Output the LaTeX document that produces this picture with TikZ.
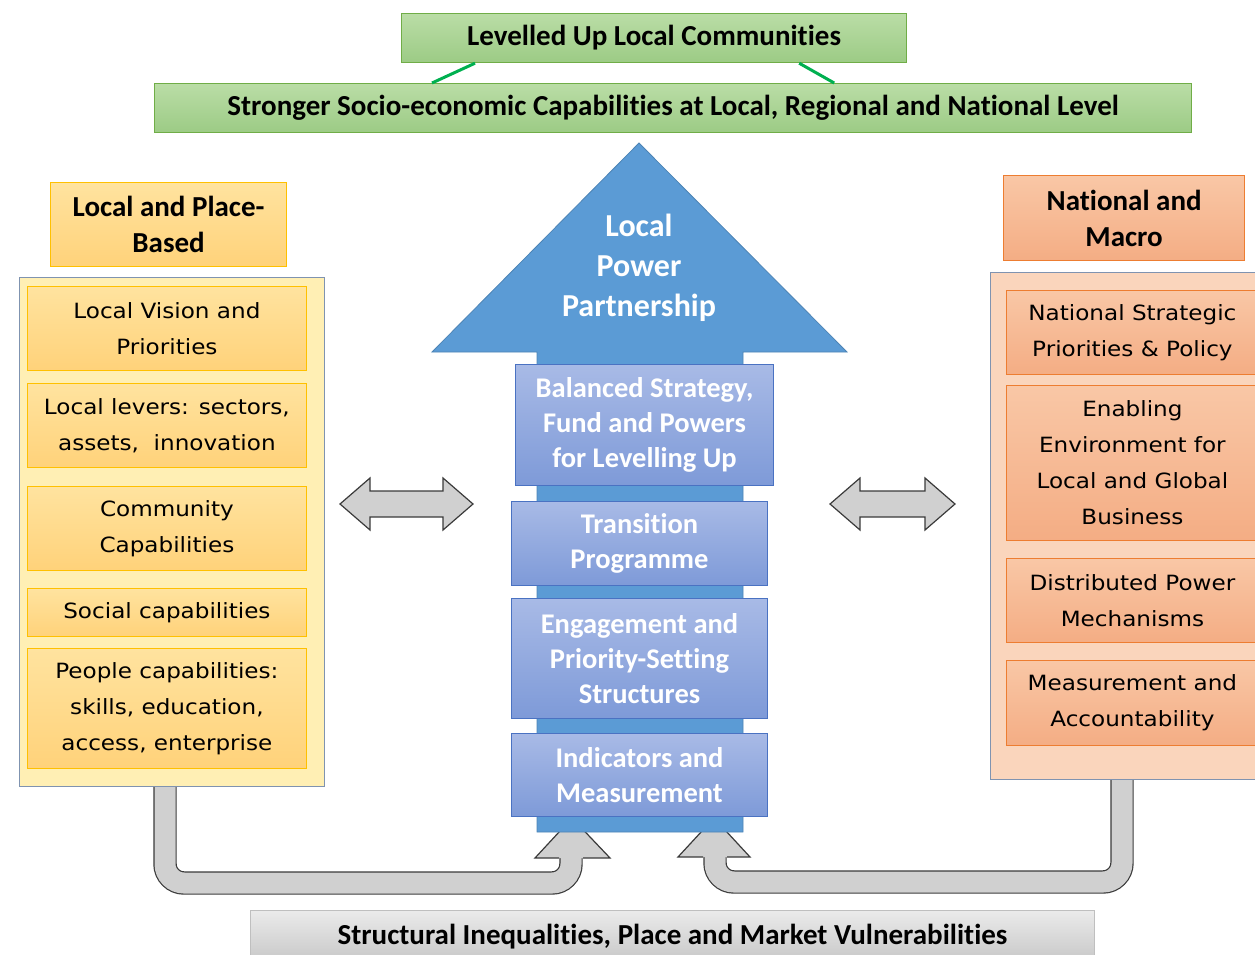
\documentclass[tikz,border=0pt]{standalone}
\usepackage{fontspec}
\setmainfont{Carlito}[Ligatures=NoCommon]
\newfontfamily\itemfont[FakeStretch=1.1]{DejaVu Sans}

\definecolor{grnline}{HTML}{70AD47}
\definecolor{grntop}{HTML}{BADDA6}
\definecolor{grnbot}{HTML}{9CCB85}
\definecolor{grnlink}{HTML}{00B050}
\definecolor{ylwline}{HTML}{FFC000}
\definecolor{ylwtop}{HTML}{FFE39F}
\definecolor{ylwbot}{HTML}{FFD27A}
\definecolor{ylwpale}{HTML}{FFEFB4}
\definecolor{orgline}{HTML}{ED7D31}
\definecolor{orgtop}{HTML}{F9C7A6}
\definecolor{orgbot}{HTML}{F4AD84}
\definecolor{orgpale}{HTML}{FAD5BC}
\definecolor{frame}{HTML}{7F93B0}
\definecolor{arrblue}{HTML}{5B9BD5}
\definecolor{blueline}{HTML}{4A72C2}
\definecolor{bluetop}{HTML}{A8BAE6}
\definecolor{bluebot}{HTML}{7E9AD8}
\definecolor{greyfill}{HTML}{D0D0D0}
\definecolor{greyline}{HTML}{3A3A3A}

\begin{document}
\begin{tikzpicture}[x=1pt, y=-1pt,
	every node/.style={anchor=north west, inner sep=0pt, align=center},
	goal/.style={draw=grnline, line width=1.2pt, top color=grntop, bottom color=grnbot, minimum height=49pt, font=\bfseries\fontsize{29}{30}\selectfont},
	lhd/.style={draw=ylwline, line width=1.2pt, top color=ylwtop, bottom color=ylwbot, font=\bfseries\fontsize{29}{36}\selectfont},
	rhd/.style={draw=orgline, line width=1.2pt, top color=orgtop, bottom color=orgbot, font=\bfseries\fontsize{29}{36}\selectfont},
	lframe/.style={draw=frame, line width=1.2pt, fill=ylwpale},
	rframe/.style={draw=frame, line width=1.2pt, fill=orgpale},
	litem/.style={draw=ylwline, line width=0.8pt, top color=ylwtop, bottom color=ylwbot, minimum width=279pt, font=\itemfont\fontsize{21}{36}\selectfont},
	ritem/.style={draw=orgline, line width=0.8pt, top color=orgtop, bottom color=orgbot, minimum width=252pt, font=\itemfont\fontsize{21}{36}\selectfont},
	blk/.style={draw=blueline, line width=1pt, top color=bluetop, bottom color=bluebot, text=white, font=\bfseries\fontsize{28.5}{35}\selectfont},
	swap/.style={draw=greyline, line width=1.2pt, fill=greyfill, line join=miter},
	uarrow/.style={draw=greyline, line width=1.2pt, double=greyfill, double distance=21pt, rounded corners=19pt}]
	\clip (0,0) rectangle (1255,955);

	\node[goal, minimum width=505pt] (top) at (401,13) {Levelled Up Local Communities};
	\node[goal, minimum width=1037pt] (sub) at (154,83) {Stronger Socio-economic Capabilities at Local, Regional and National Level};
	\draw[grnlink, line width=3pt] ([xshift=74pt]top.south west) -- ([xshift=278pt]sub.north west);
	\draw[grnlink, line width=3pt] ([xshift=-108pt]top.south east) -- ([xshift=-358pt]sub.north east);

	\node[lhd, minimum width=236pt, minimum height=84pt] (lhead) at (50,182) {Local and Place-\\Based};
	\node[lframe, minimum width=305pt, minimum height=509pt] (lbox) at (19,277) {};
	\node[litem, minimum height=84pt] (lvision) at (27,286) {Local Vision and\\Priorities};
	\node[litem, minimum height=84pt] (llevers) at (27,383) {Local levers: sectors,\\assets,\ \ innovation};
	\node[litem, minimum height=84pt] (lcomm) at (27,486) {Community\\Capabilities};
	\node[litem, minimum height=48pt] (lsocial) at (27,588) {Social capabilities};
	\node[litem, minimum height=120pt] (lpeople) at (27,648) {People capabilities:\\skills, education,\\access, enterprise};

	\node[rhd, minimum width=241pt, minimum height=85pt] (rhead) at (1003,175) {National and\\Macro};
	\node[rframe, minimum width=275pt, minimum height=507pt] (rbox) at (990,272) {};
	\node[ritem, minimum height=84pt] (rpolicy) at (1006,290) {National Strategic\\Priorities \& Policy};
	\node[ritem, minimum height=155pt] (renable) at (1006,385) {Enabling\\Environment for\\Local and Global\\Business};
	\node[ritem, minimum height=84pt] (rpower) at (1006,558) {Distributed Power\\Mechanisms};
	\node[ritem, minimum height=85pt] (rmeasure) at (1006,660) {Measurement and\\Accountability};

	\draw[uarrow] ([xshift=146pt]lbox.south west) |- (571,883) -- (571,858);
	\fill[greyfill] (535,858) -- (572,818) -- (610,858) -- cycle;
	\draw[greyline, line width=1.2pt, line join=miter] (559,858) -- (535,858) -- (572,818) -- (610,858) -- (583,858);
	\draw[uarrow] ([xshift=132pt]rbox.south west) |- (715,882) -- (715,857);
	\fill[greyfill] (678,857) -- (714,818) -- (750,857) -- cycle;
	\draw[greyline, line width=1.2pt, line join=miter] (703,857) -- (678,857) -- (714,818) -- (750,857) -- (727,857);

	\foreach \x/\w in {340/73, 830/65}
		\draw[swap] (\x,504) -- ++(30,-26) -- ++(0,13) -- ++(\w,0) -- ++(0,-13) -- ++(30,26) -- ++(-30,26) -- ++(0,-13) -- ++(-\w,0) -- ++(0,13) -- cycle;

	\filldraw[fill=arrblue, draw=arrblue!85!black, line width=0.8pt] (537,832) -- (537,352) -- (432,352) -- (639,143) -- (847,352) -- (743,352) -- (743,832) -- cycle;
	\node[anchor=center, text=white, font=\bfseries\fontsize{32}{40}\selectfont] (lpp) at (639,268) {Local\\Power\\Partnership};

	\node[blk, minimum width=258pt, minimum height=121pt] (strategy) at (515,364) {Balanced Strategy,\\Fund and Powers\\for Levelling Up};
	\node[blk, minimum width=256pt, minimum height=84pt] (transit) at (511,501) {Transition\\Programme};
	\node[blk, minimum width=256pt, minimum height=120pt] (engage) at (511,598) {Engagement and\\Priority-Setting\\Structures};
	\node[blk, minimum width=256pt, minimum height=83pt] (indic) at (511,733) {Indicators and\\Measurement};

	\node[draw=black!25, line width=1pt, top color=black!8, bottom color=black!22, minimum width=844pt, minimum height=52pt, font=\bfseries\fontsize{29}{30}\selectfont] (base) at (250,910) {\raisebox{4pt}{Structural Inequalities, Place and Market Vulnerabilities}};
\end{tikzpicture}
\end{document}
